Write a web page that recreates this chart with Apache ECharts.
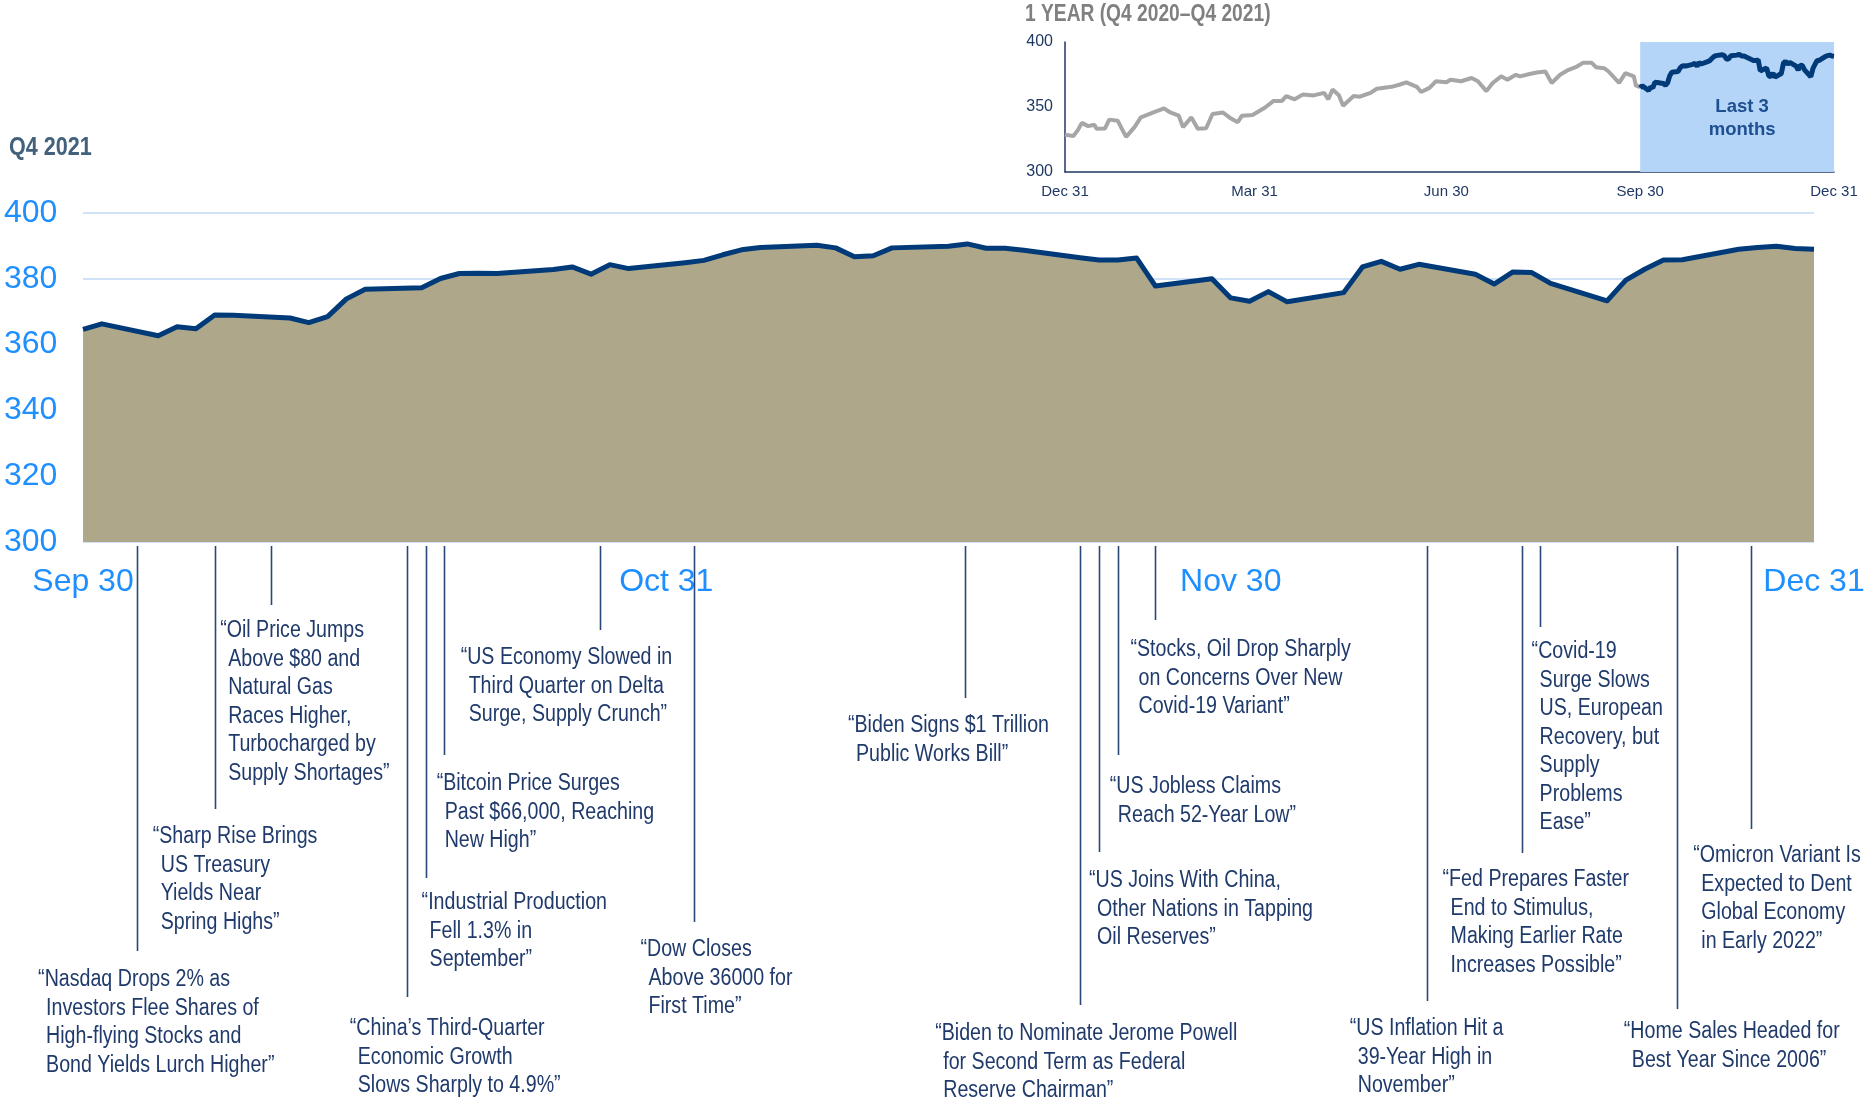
<!DOCTYPE html>
<html>
<head>
<meta charset="utf-8">
<title>Q4 2021</title>
<script src="https://cdn.jsdelivr.net/npm/echarts@6/dist/echarts.min.js"></script>
<style>
  html, body { margin: 0; padding: 0; background: #ffffff; }
  #chart { width: 1865px; height: 1104px; }
</style>
</head>
<body>
<div id="chart"></div>
<script>
// ---- Quarter (Sep 30 – Dec 31, 2021) daily closes ----
const quarterDates = [
  '2021-09-30', '2021-10-01', '2021-10-04', '2021-10-05', '2021-10-06', '2021-10-07', '2021-10-08',
  '2021-10-11', '2021-10-12', '2021-10-13', '2021-10-14', '2021-10-15', '2021-10-18', '2021-10-19',
  '2021-10-20', '2021-10-21', '2021-10-22', '2021-10-25', '2021-10-26', '2021-10-27', '2021-10-28',
  '2021-10-29', '2021-11-01', '2021-11-02', '2021-11-03', '2021-11-04', '2021-11-05', '2021-11-08',
  '2021-11-09', '2021-11-10', '2021-11-11', '2021-11-12', '2021-11-15', '2021-11-16', '2021-11-17',
  '2021-11-18', '2021-11-19', '2021-11-22', '2021-11-23', '2021-11-24', '2021-11-25', '2021-11-26',
  '2021-11-29', '2021-11-30', '2021-12-01', '2021-12-02', '2021-12-03', '2021-12-06', '2021-12-07',
  '2021-12-08', '2021-12-09', '2021-12-10', '2021-12-13', '2021-12-14', '2021-12-15', '2021-12-16',
  '2021-12-17', '2021-12-20', '2021-12-21', '2021-12-22', '2021-12-23', '2021-12-24', '2021-12-27',
  '2021-12-28', '2021-12-29', '2021-12-30', '2021-12-31'
];
const quarterValues = [
  364.6, 366.3, 362.7, 365.4, 364.8, 369.0, 368.9,
  368.1, 366.7, 368.5, 373.9, 376.8, 377.3, 380.1,
  381.6, 381.7, 381.6, 382.8, 383.6, 381.4, 384.3,
  383.1, 384.9, 385.6, 387.3, 388.8, 389.5, 390.2,
  389.4, 386.7, 387.0, 389.4, 389.9, 390.6, 389.3,
  389.3, 388.7, 386.4, 385.7, 385.7, 386.3, 377.8,
  380.0, 374.2, 373.2, 376.1, 373.0, 375.8, 383.6,
  385.3, 382.9, 384.4, 381.4, 378.4, 382.1, 381.9,
  378.6, 373.3, 379.6, 382.9, 385.7, 385.8, 389.0,
  389.5, 389.9, 389.2, 389.0
];

// ---- Prior nine months (Dec 31, 2020 – Sep 30, 2021) ----
const yearDates = [
  '2020-12-31', '2021-01-04', '2021-01-06', '2021-01-08', '2021-01-11', '2021-01-14', '2021-01-15',
  '2021-01-19', '2021-01-21', '2021-01-25', '2021-01-27', '2021-01-29', '2021-02-02', '2021-02-05',
  '2021-02-11', '2021-02-16', '2021-02-19', '2021-02-23', '2021-02-25', '2021-03-01', '2021-03-04',
  '2021-03-08', '2021-03-11', '2021-03-16', '2021-03-19', '2021-03-23', '2021-03-25', '2021-03-30',
  '2021-04-05', '2021-04-09', '2021-04-13', '2021-04-15', '2021-04-19', '2021-04-23', '2021-04-28',
  '2021-05-03', '2021-05-05', '2021-05-07', '2021-05-10', '2021-05-12', '2021-05-17', '2021-05-20',
  '2021-05-25', '2021-05-28', '2021-06-04', '2021-06-08', '2021-06-11', '2021-06-16', '2021-06-18',
  '2021-06-22', '2021-06-25', '2021-06-30', '2021-07-02', '2021-07-07', '2021-07-12', '2021-07-15',
  '2021-07-19', '2021-07-22', '2021-07-26', '2021-07-29', '2021-08-02', '2021-08-04', '2021-08-09',
  '2021-08-12', '2021-08-16', '2021-08-19', '2021-08-23', '2021-08-27', '2021-08-31', '2021-09-03',
  '2021-09-07', '2021-09-09', '2021-09-13', '2021-09-15', '2021-09-20', '2021-09-23', '2021-09-27',
  '2021-09-28', '2021-09-29', '2021-09-30'
];
const yearValues = [
  328.7, 327.7, 332.0, 337.8, 335.3, 336.3, 333.2,
  333.5, 340.3, 339.5, 333.2, 327.0, 334.5, 342.0,
  345.8, 348.9, 345.8, 343.3, 334.5, 342.0, 333.2,
  333.7, 344.6, 345.8, 342.0, 338.3, 343.3, 343.8,
  349.6, 354.7, 354.7, 358.4, 355.9, 359.7, 358.9,
  360.9, 355.9, 363.5, 359.0, 350.9, 358.4, 357.9,
  360.9, 364.0, 365.5, 367.3, 369.0, 365.5, 361.5,
  364.7, 369.8, 369.0, 371.0, 369.8, 372.3, 369.8,
  362.2, 368.5, 373.6, 371.0, 374.8, 373.6, 375.6,
  376.6, 377.3, 368.5, 374.8, 378.6, 381.1, 384.1,
  384.0, 380.6, 379.8, 377.3, 368.5, 376.1, 373.6,
  366.0, 366.5, 364.6
];

// ---- Axis ticks ----
const quarterTickDates = ['2021-09-30', '2021-10-31', '2021-11-30', '2021-12-31'];
const quarterTickLabels = ['Sep 30', 'Oct 31', 'Nov 30', 'Dec 31'];
const yearTickDates = ['2020-12-31', '2021-03-31', '2021-06-30', '2021-09-30', '2021-12-31'];
const yearTickLabels = ['Dec 31', 'Mar 31', 'Jun 30', 'Sep 30', 'Dec 31'];

// ---- Headlines and when they ran ----
const headlineDates = [
  '2021-10-02 21:00', '2021-10-07', '2021-10-10', '2021-10-17 05:00', '2021-10-18 05:00',
  '2021-10-19 04:00', '2021-10-27 11:00', '2021-11-01 12:00', '2021-11-15 21:00', '2021-11-22',
  '2021-11-23', '2021-11-24', '2021-11-26', '2021-12-10 10:00', '2021-12-15 11:00',
  '2021-12-16 10:00', '2021-12-23 17:00', '2021-12-27 16:00'
];
const headlines = [
  ['\u201cNasdaq Drops 2% as', 'Investors Flee Shares of', 'High-flying Stocks and', 'Bond Yields Lurch Higher\u201d'],
  ['\u201cSharp Rise Brings', 'US Treasury', 'Yields Near', 'Spring Highs\u201d'],
  ['\u201cOil Price Jumps', 'Above $80 and', 'Natural Gas', 'Races Higher,', 'Turbocharged by', 'Supply Shortages\u201d'],
  ['\u201cChina\u2019s Third-Quarter', 'Economic Growth', 'Slows Sharply to 4.9%\u201d'],
  ['\u201cIndustrial Production', 'Fell 1.3% in', 'September\u201d'],
  ['\u201cBitcoin Price Surges', 'Past $66,000, Reaching', 'New High\u201d'],
  ['\u201cUS Economy Slowed in', 'Third Quarter on Delta', 'Surge, Supply Crunch\u201d'],
  ['\u201cDow Closes', 'Above 36000 for', 'First Time\u201d'],
  ['\u201cBiden Signs $1 Trillion', 'Public Works Bill\u201d'],
  ['\u201cBiden to Nominate Jerome Powell', 'for Second Term as Federal', 'Reserve Chairman\u201d'],
  ['\u201cUS Joins With China,', 'Other Nations in Tapping', 'Oil Reserves\u201d'],
  ['\u201cUS Jobless Claims', 'Reach 52-Year Low\u201d'],
  ['\u201cStocks, Oil Drop Sharply', 'on Concerns Over New', 'Covid-19 Variant\u201d'],
  ['\u201cUS Inflation Hit a', '39-Year High in', 'November\u201d'],
  ['\u201cFed Prepares Faster', 'End to Stimulus,', 'Making Earlier Rate', 'Increases Possible\u201d'],
  ['\u201cCovid-19', 'Surge Slows', 'US, European', 'Recovery, but', 'Supply', 'Problems', 'Ease\u201d'],
  ['\u201cHome Sales Headed for', 'Best Year Since 2006\u201d'],
  ['\u201cOmicron Variant Is', 'Expected to Dent', 'Global Economy', 'in Early 2022\u201d']
];

// Leader-line end (px from top), text offset from the leader, first text line centre (px from top)
const headlineLayout = [
  [951, -99, 980], [809, -62, 837], [605, -51, 631], [997, -57, 1029], [878, -4, 903],
  [755, -7, 784], [630, -139, 658], [922, -54, 950], [698, -117, 726], [1005, -145, 1034],
  [852, -10, 881], [755, -8, 787], [620, -25, 650], [1001, -77, 1029], [853, -79, 880],
  [627, -8, 652], [1009, -53, 1032], [829, -58, 856]
];

const FONT = "'Liberation Sans', Arial, sans-serif";
const CONDENSE = 0.835;          // horizontal squeeze for the narrow headline lettering
const NAVY = '#003a78';
const TEXT_NAVY = '#1f3a6b';
const BRIGHT = '#1f8fff';
const Y_MIN = 300;
const LINE_GAP = 28.5;

const ts = s => echarts.number.parseDate(s).getTime();
const labelFor = (dates, labels) => {
  const stamps = dates.map(ts);
  return v => {
    let best = -1, bestDiff = Infinity;
    stamps.forEach((s, i) => {
      const d = Math.abs(s - v);
      if (d < bestDiff) { bestDiff = d; best = i; }
    });
    return bestDiff < 3600e3 ? labels[best] : '';
  };
};

const quarterData = quarterDates.map((d, i) => [ts(d), quarterValues[i]]);
const yearData = yearDates.map((d, i) => [ts(d), yearValues[i]]);
const headlineData = headlineDates.map((d, i) => [ts(d), i]);

const chart = echarts.init(document.getElementById('chart'), null, { renderer: 'canvas' });

const option = {
  animation: false,
  backgroundColor: '#ffffff',
  textStyle: { fontFamily: FONT },
  grid: [
    { left: 83, right: 51, top: 213, bottom: 562, outerBoundsMode: 'none' },
    { left: 1065, right: 31, top: 42, bottom: 932, outerBoundsMode: 'none' }
  ],
  graphic: [
    {
      type: 'text', x: 9, y: 148, scaleX: 0.83,
      style: { text: 'Q4 2021', fill: '#41617c', font: 'bold 26px ' + FONT, textVerticalAlign: 'middle' }
    },
    {
      type: 'text', x: 1025, y: 15, scaleX: 0.835,
      style: { text: '1 YEAR (Q4 2020\u2013Q4 2021)', fill: '#808080', font: 'bold 23px ' + FONT, textVerticalAlign: 'middle' }
    }
  ],
  xAxis: [
    {
      type: 'value', gridIndex: 0,
      min: ts(quarterTickDates[0]), max: ts(quarterTickDates[quarterTickDates.length - 1]),
      axisLine: { show: false }, axisTick: { show: false }, splitLine: { show: false },
      axisLabel: {
        customValues: quarterTickDates.map(ts),
        formatter: labelFor(quarterTickDates, quarterTickLabels),
        color: BRIGHT, fontSize: 32, fontFamily: FONT, margin: 24, hideOverlap: false
      }
    },
    {
      type: 'value', gridIndex: 1,
      min: ts(yearTickDates[0]), max: ts(yearTickDates[yearTickDates.length - 1]),
      axisLine: { show: true, lineStyle: { color: '#1f3864', width: 1.5 } },
      axisTick: { show: false }, splitLine: { show: false },
      axisLabel: {
        customValues: yearTickDates.map(ts),
        formatter: labelFor(yearTickDates, yearTickLabels),
        color: '#1f3864', fontSize: 15, fontFamily: FONT, margin: 12, hideOverlap: false
      }
    }
  ],
  yAxis: [
    {
      type: 'value', gridIndex: 0, min: Y_MIN, max: 400, interval: 20,
      axisLine: { show: false }, axisTick: { show: false },
      splitLine: { show: true, lineStyle: { color: '#cfe2f8', width: 2 } },
      axisLabel: { color: BRIGHT, fontSize: 32, fontFamily: FONT, align: 'left', margin: 79 }
    },
    {
      type: 'value', gridIndex: 1, min: 300, max: 400, interval: 50,
      axisLine: { show: true, lineStyle: { color: '#1f3864', width: 1.5 } },
      axisTick: { show: false }, splitLine: { show: false },
      axisLabel: { color: '#1f3864', fontSize: 16, fontFamily: FONT, margin: 12 }
    }
  ],
  series: [
    {
      name: 'Q4 2021',
      type: 'line', xAxisIndex: 0, yAxisIndex: 0,
      data: quarterData, showSymbol: false, z: 3,
      lineStyle: { color: NAVY, width: 5, join: 'round' },
      areaStyle: { color: '#aea78a', opacity: 1, origin: 'start' }
    },
    {
      name: 'Headlines',
      type: 'custom', xAxisIndex: 0, yAxisIndex: 0,
      data: headlineData, clip: false, silent: true, z: 4,
      encode: { x: 0, y: 1 },
      renderItem: (params, api) => {
        const i = api.value(1);
        const base = api.coord([api.value(0), Y_MIN]);
        const [lineEnd, dx, textY] = headlineLayout[i];
        const x = Math.round(base[0]) + 0.5;
        const children = [{
          type: 'line',
          shape: { x1: x, y1: base[1] + 4, x2: x, y2: lineEnd },
          style: { stroke: '#2a4778', lineWidth: 1.6 }
        }];
        headlines[i].forEach((line, k) => {
          children.push({
            type: 'text',
            x: base[0] + dx + (k === 0 ? 0 : 8),
            y: textY + k * LINE_GAP,
            scaleX: CONDENSE,
            style: {
              text: line, fill: TEXT_NAVY, font: '23.5px ' + FONT,
              textAlign: 'left', textVerticalAlign: 'middle'
            }
          });
        });
        return { type: 'group', children };
      }
    },
    {
      name: 'First nine months',
      type: 'line', xAxisIndex: 1, yAxisIndex: 1,
      data: yearData, showSymbol: false, z: 2,
      lineStyle: { color: '#a6a6a6', width: 4 },
      markArea: {
        silent: true,
        itemStyle: { color: '#b5d5f8', opacity: 1 },
        label: {
          show: true, position: 'inside', formatter: 'Last 3\nmonths',
          color: '#1d4f91', fontWeight: 'bold', fontSize: 18.5, lineHeight: 23,
          fontFamily: FONT, offset: [5, 11]
        },
        data: [[
          { xAxis: ts(yearTickDates[3]), yAxis: 400 },
          { xAxis: ts(yearTickDates[4]), yAxis: 300 }
        ]]
      }
    },
    {
      name: 'Last 3 months',
      type: 'line', xAxisIndex: 1, yAxisIndex: 1,
      data: quarterData, showSymbol: false, z: 3,
      lineStyle: { color: NAVY, width: 5 }
    }
  ]
};

chart.setOption(option);
</script>
</body>
</html>
